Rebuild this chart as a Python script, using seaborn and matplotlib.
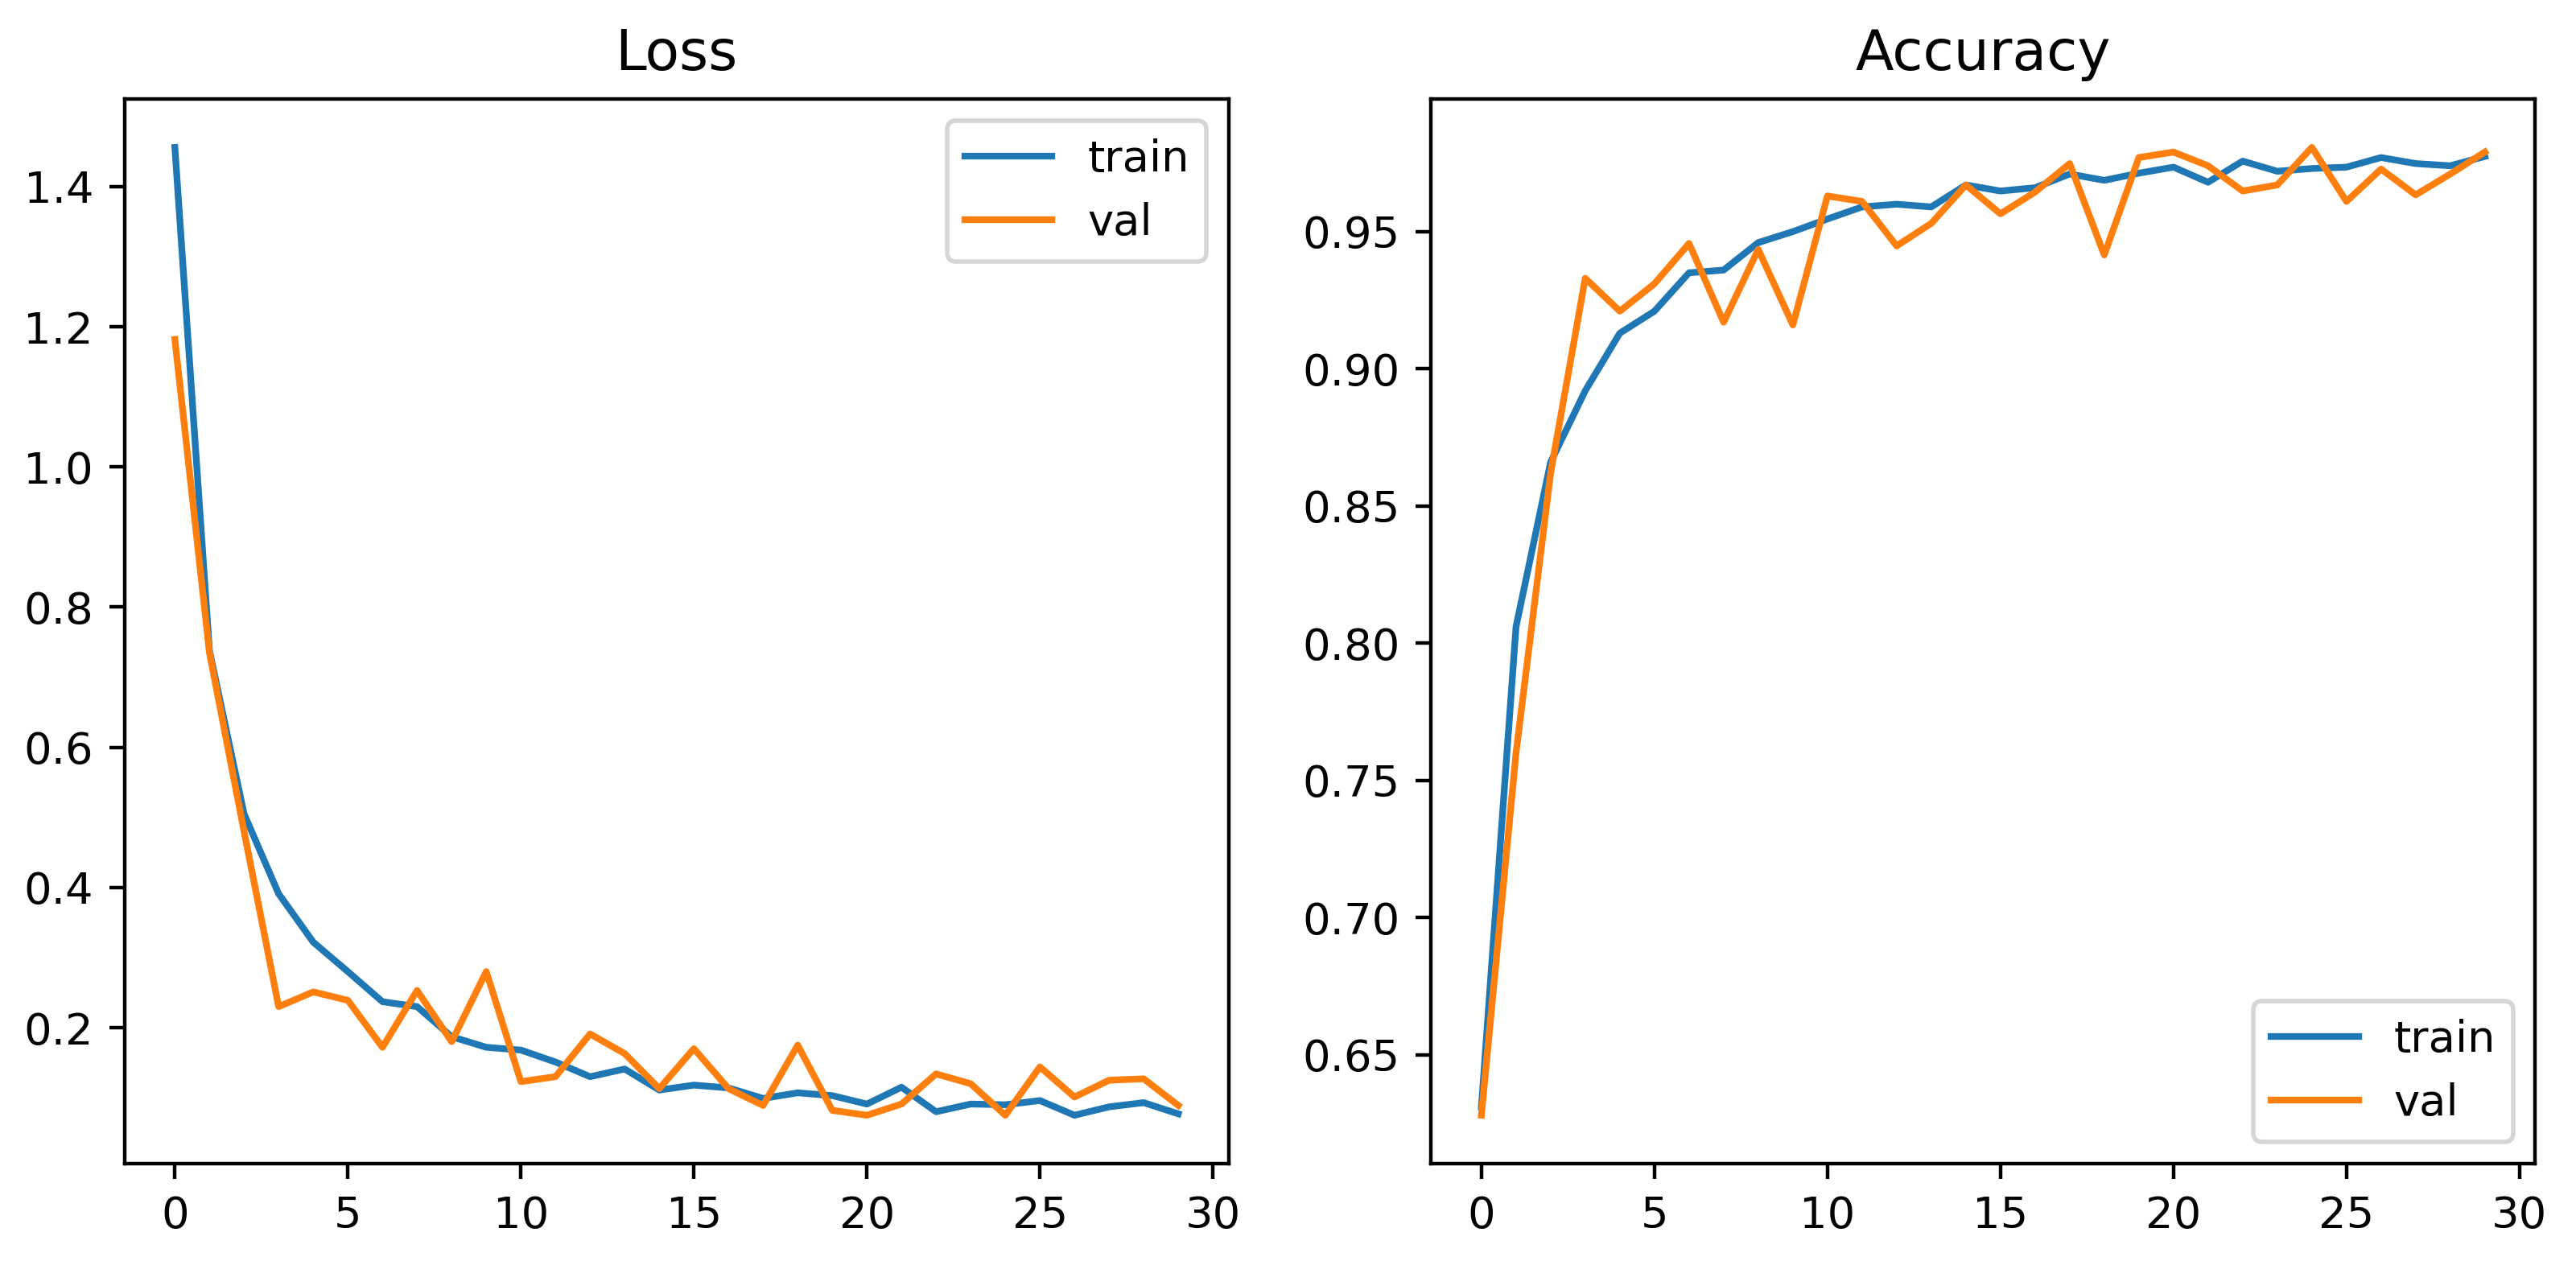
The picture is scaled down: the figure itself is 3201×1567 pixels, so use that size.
import numpy as np
import pandas as pd
import matplotlib
matplotlib.use("Agg")
import matplotlib.pyplot as plt
import seaborn as sns

epochs = list(range(30))

loss_train = [1.456, 0.738, 0.505, 0.391, 0.322, 0.280, 0.237, 0.230, 0.187, 0.172,
              0.168, 0.151, 0.130, 0.141, 0.111, 0.118, 0.114, 0.099, 0.107, 0.103,
              0.091, 0.115, 0.080, 0.091, 0.090, 0.096, 0.075, 0.087, 0.093, 0.077]
loss_val = [1.182, 0.735, 0.480, 0.230, 0.251, 0.239, 0.172, 0.253, 0.180, 0.280,
            0.123, 0.130, 0.191, 0.163, 0.113, 0.170, 0.113, 0.089, 0.175, 0.082,
            0.075, 0.091, 0.134, 0.120, 0.075, 0.144, 0.101, 0.125, 0.127, 0.089]

acc_train = [0.631, 0.806, 0.866, 0.892, 0.913, 0.921, 0.935, 0.936, 0.946, 0.950,
             0.9546, 0.959, 0.960, 0.959, 0.967, 0.9648, 0.966, 0.971, 0.9687, 0.9713,
             0.9735, 0.968, 0.9757, 0.972, 0.973, 0.9735, 0.977, 0.9748, 0.974, 0.9774]
acc_val = [0.628, 0.760, 0.862, 0.933, 0.921, 0.931, 0.9457, 0.917, 0.9435, 0.916,
           0.963, 0.961, 0.9448, 0.953, 0.967, 0.9565, 0.9644, 0.9748, 0.9415, 0.977,
           0.979, 0.974, 0.9648, 0.967, 0.9807, 0.961, 0.9728, 0.9634, 0.971, 0.979]

titles = ["Loss", "Accuracy"]
series_labels = ["train", "val"]

plt.rcParams["font.family"] = ["DejaVu Sans"]
plt.rcParams["font.size"] = 9.8

fig, axes = plt.subplots(1, 2, figsize=(3201 / 400, 1567 / 400), dpi=400)
fig.subplots_adjust(left=0.0484, right=0.9841, bottom=0.0772, top=0.9215, wspace=0.1837)

panels = [(loss_train, loss_val, "upper right"), (acc_train, acc_val, "lower right")]
for ax, title, (tr, va, loc) in zip(axes, titles, panels):
    df = pd.DataFrame({"epoch": epochs, "train": tr, "val": va})
    sns.lineplot(data=df, x="epoch", y="train", ax=ax, color="#1f77b4",
                 linewidth=1.5, label=series_labels[0])
    sns.lineplot(data=df, x="epoch", y="val", ax=ax, color="#ff7f0e",
                 linewidth=1.5, label=series_labels[1])
    ax.set_xlabel("")
    ax.set_ylabel("")
    ax.set_title(title, fontsize=12.5, pad=6.5)
    ax.set_xticks([0, 5, 10, 15, 20, 25, 30])
    ax.tick_params(labelsize=9.8)
    ax.legend(loc=loc, fontsize=9.8)

axes[1].set_yticks([0.65, 0.70, 0.75, 0.80, 0.85, 0.90, 0.95])
axes[1].set_yticklabels(["0.65", "0.70", "0.75", "0.80", "0.85", "0.90", "0.95"])

fig.savefig("out.png", dpi=400)
